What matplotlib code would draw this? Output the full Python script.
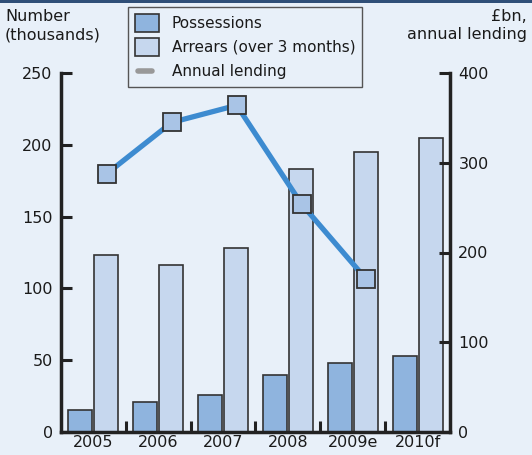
import matplotlib
matplotlib.use("Agg")
import matplotlib.pyplot as plt
import numpy as np
from matplotlib.patches import Patch, Rectangle
from matplotlib.lines import Line2D
from matplotlib.legend_handler import HandlerBase

# Data (thousands of properties; £bn of gross lending)
years = ["2005", "2006", "2007", "2008", "2009e", "2010f"]
possessions = [15, 21, 26, 40, 48, 53]
arrears = [123, 116, 128, 183, 195, 205]
lending = [288, 345, 364, 254, 170]

BG = "#e8f0f9"
C_POSS = "#8fb4de"
C_ARR = "#c6d7ee"
C_LINE = "#3d8bd0"
C_MARK = "#a9c4e6"
EDGE = "#333333"

plt.rcParams["font.family"] = ["DejaVu Sans"]
plt.rcParams["font.size"] = 11.5
plt.rcParams["text.color"] = "#1a1a1a"
plt.rcParams["xtick.labelcolor"] = "#1a1a1a"
plt.rcParams["ytick.labelcolor"] = "#1a1a1a"


class ShortLineHandler(HandlerBase):
    """Short rounded grey stroke for the lending entry."""

    def create_artists(self, legend, orig_handle, xdescent, ydescent, width, height,
                       fontsize, trans):
        y = -ydescent + height / 2
        ln = Line2D([-xdescent + 0.12 * width, -xdescent + 0.72 * width], [y, y],
                    color=orig_handle.get_color(), lw=orig_handle.get_linewidth(),
                    solid_capstyle="round", transform=trans)
        return [ln]


fig = plt.figure(figsize=(5.32, 4.55), dpi=100, facecolor=BG)
ax = fig.add_axes([61 / 532, 23 / 455, 389 / 532, 359 / 455])
ax.set_facecolor(BG)

x = np.arange(len(years))
w = 0.37
ax.bar(x - 0.2, possessions, w, color=C_POSS, edgecolor=EDGE, linewidth=1.2, zorder=2)
ax.bar(x + 0.2, arrears, w, color=C_ARR, edgecolor=EDGE, linewidth=1.2, zorder=2)
ax.set_xlim(-0.5, len(years) - 0.5)
ax.set_ylim(0, 250)
ax.set_yticks([0, 50, 100, 150, 200, 250])
ax.set_xticks(x)
ax.set_xticklabels(years)
ax.set_xticks(np.arange(0.5, len(years) - 0.5, 1), minor=True)
ax.tick_params(axis="x", which="major", length=0, pad=2)
ax.tick_params(axis="x", which="minor", direction="in", length=8, width=2.2, color="#222222")
ax.tick_params(axis="y", direction="in", length=8, width=2.2, color="#222222", pad=6)

for side in ["left", "bottom"]:
    ax.spines[side].set_linewidth(2.5)
    ax.spines[side].set_color("#222222")
for side in ["top", "right"]:
    ax.spines[side].set_visible(False)

# Lending on the right-hand axis
ax2 = ax.twinx()
ax2.set_ylim(0, 400)
ax2.set_yticks([0, 100, 200, 300, 400])
ax2.tick_params(axis="y", direction="in", length=8, width=2.2, color="#222222", pad=6)
for side in ["top", "left", "bottom"]:
    ax2.spines[side].set_visible(False)
ax2.spines["right"].set_linewidth(2.5)
ax2.spines["right"].set_color("#222222")
ax2.plot(x[:len(lending)] + 0.21, lending, color=C_LINE, lw=3.8, zorder=3,
         marker="s", ms=12.5, mfc=C_MARK, mec=EDGE, mew=1.3)

# Axis captions
fig.text(5 / 532, 1 - 9 / 455, "Number\n(thousands)", ha="left", va="top",
         linespacing=1.25)
fig.text(527 / 532, 1 - 9 / 455, "£bn,\nannual lending", ha="right", va="top",
         linespacing=1.25, multialignment="right")

lend_handle = Line2D([], [], color="#999999", lw=4)
handles = [
    Patch(facecolor=C_POSS, edgecolor=EDGE, linewidth=1.2),
    Patch(facecolor=C_ARR, edgecolor=EDGE, linewidth=1.2),
    lend_handle,
]
leg = fig.legend(handles, ["Possessions", "Arrears (over 3 months)", "Annual lending"],
                 loc="upper left", bbox_to_anchor=(128 / 532, 1 - 7 / 455),
                 handler_map={lend_handle: ShortLineHandler()},
                 frameon=True, fancybox=False, edgecolor="#555555", facecolor=BG,
                 framealpha=1, fontsize=11, handlelength=1.6, handleheight=1.45,
                 handletextpad=0.8, labelspacing=0.38, borderpad=0.45, borderaxespad=0)
leg.get_frame().set_linewidth(1.0)

# Dark rule along the top edge
fig.add_artist(Rectangle((0, 1 - 3 / 455), 1, 3 / 455, transform=fig.transFigure,
                         facecolor="#2f4f78", edgecolor="none"))

fig.savefig("out.png", dpi=100, facecolor=BG)
